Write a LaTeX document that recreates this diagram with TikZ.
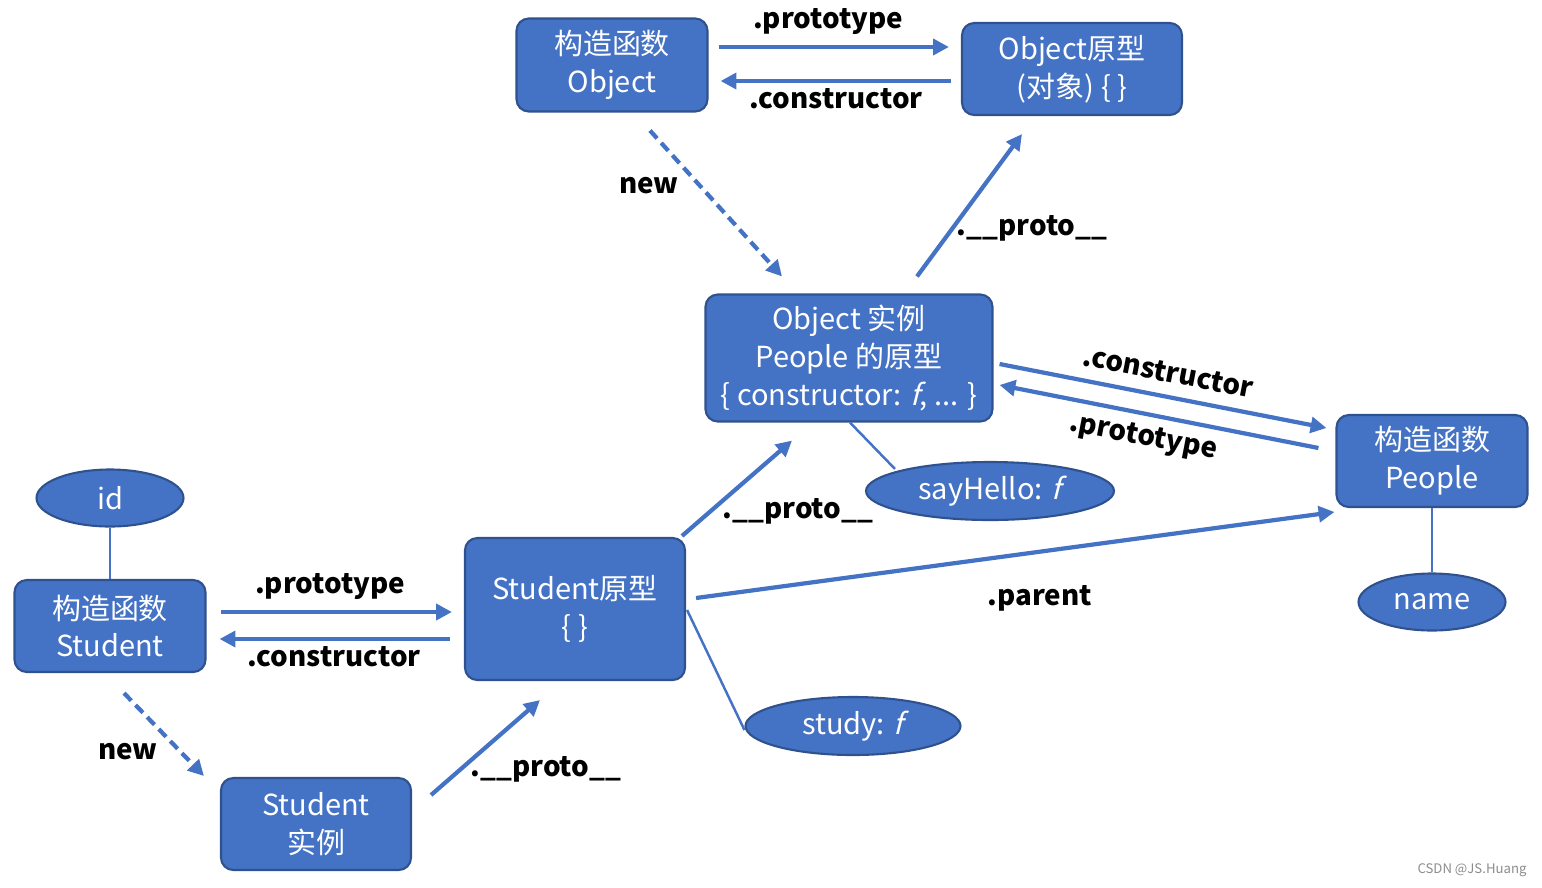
\documentclass[tikz,border=0pt]{standalone}
\usepackage{fontspec}
\setmainfont{Noto Sans CJK SC}[ItalicFont={Noto Sans CJK SC},ItalicFeatures={FakeSlant=0.25}]
\usetikzlibrary{arrows.meta,calc,shapes.geometric}
\definecolor{bfill}{HTML}{4472C4}
\definecolor{bdraw}{HTML}{2F528F}
\tikzset{
  box/.style={draw=bdraw,fill=bfill,line width=1.2pt,rounded corners=7pt,text=white,align=center,font=\fontsize{16.5}{21.5}\selectfont,inner sep=0pt},
  oval/.style={ellipse,draw=bdraw,fill=bfill,line width=1.2pt,text=white,font=\fontsize{16.5}{21}\selectfont,inner sep=0pt},
  arr/.style={draw=bfill,line width=2.4pt,-{Triangle[length=9pt,width=9pt]}},
  dasharr/.style={arr,dash pattern=on 6pt off 3.5pt},
  link/.style={draw=bfill,line width=1.4pt},
  lbl/.style={font=\bfseries\fontsize{15.8}{18}\selectfont,inner sep=0pt},
}
\begin{document}
\begin{tikzpicture}[x=0.02cm,y=-0.02cm]
\useasboundingbox (0,0) rectangle (1542,887);
% boxes
\node[box,minimum width=191*0.02cm,minimum height=93*0.02cm] (OC) at (612,65) {构造函数\\Object};
\node[box,minimum width=220*0.02cm,minimum height=92*0.02cm] (OP) at (1072,69) {Object原型\\(对象) \{ \}};
\node[box,minimum width=287*0.02cm,minimum height=127*0.02cm] (OI) at (849,358) {Object 实例\\People 的原型\\\{ constructor: \textit{f}, ... \}};
\node[box,minimum width=191*0.02cm,minimum height=92*0.02cm] (PC) at (1432,461) {构造函数\\People};
\node[box,minimum width=191*0.02cm,minimum height=92*0.02cm] (SC) at (110,626) {构造函数\\Student};
\node[box,minimum width=220*0.02cm,minimum height=142*0.02cm] (SP) at (575,609) {Student原型\\\{ \}};
\node[box,minimum width=190*0.02cm,minimum height=92*0.02cm] (SI) at (316,824) {Student\\实例};
% ovals
\node[oval,minimum width=147*0.02cm,minimum height=57*0.02cm] (id) at (110,498) {id};
\node[oval,minimum width=248*0.02cm,minimum height=58*0.02cm] (sh) at (990,491) {sayHello: \textit{f}};
\node[oval,minimum width=147*0.02cm,minimum height=57*0.02cm] (nm) at (1432,602) {name};
\node[oval,minimum width=215*0.02cm,minimum height=58*0.02cm] (st) at (853,726) {study: \textit{f}};
% plain links
\draw[link] (id) -- (SC);
\draw[link] (nm) -- (PC);
\draw[link] ($(OI.south)+(1,0)$) -- ($(sh.north)+(-95,8)$);
\draw[link] ($(SP.east)+(1,1)$) -- ($(st.west)+(0,4)$);
% arrows top
\draw[arr] ($(OC.east)+(10,-18)$) -- ($(OP.west)+(-12,-22)$);
\draw[arr] ($(OP.west)+(-10,12)$) -- ($(OC.east)+(12,16)$);
\node[lbl] (l1) at (828,22) {.prototype};
\node[lbl] (l2) at (836,99) {.constructor};
\draw[dasharr] ($(OC.south)+(38,18)$) -- ($(OI.north)+(-67,-17)$);
\node[lbl] (l3) at (649,186) {new};
\draw[arr] ($(OI.north)+(68,-17)$) -- ($(OP.south)+(-50,18)$);
\node[lbl] (l4) at (1032,228) {.\_\_proto\_\_};
% OI <-> PC
\draw[arr] ($(OI.east)+(6,6)$) -- ($(PC.west)+(-9,-33)$);
\draw[arr] ($(PC.west)+(-17,-13)$) -- ($(OI.east)+(6,27)$);
\node[lbl,rotate=-11] (l5) at (1168,372) {.constructor};
\node[lbl,rotate=-11] (l6) at (1143,438) {.prototype};
% SP -> OI
\draw[arr] ($(SP.north)+(107,-1)$) -- ($(OI.south)+(-57,18)$);
\node[lbl] (l7) at (798,511) {.\_\_proto\_\_};
% parent
\draw[arr] ($(SP.east)+(10,-11)$) -- ($(PC.west)+(-1,51)$);
\node[lbl] (l8) at (1040,598) {.parent};
% Student ctor <-> proto
\draw[arr] ($(SC.east)+(14,-14)$) -- ($(SP.west)+(-12,3)$);
\draw[arr] ($(SP.west)+(-14,30)$) -- ($(SC.east)+(13,13)$);
\node[lbl] (l9) at (330,587) {.prototype};
\node[lbl] (l10) at (334,657) {.constructor};
\draw[dasharr] ($(SC.south)+(14,20)$) -- ($(SI.west)+(-16,-48)$);
\node[lbl] (l11) at (128,752) {new};
\draw[arr] ($(SI.east)+(19,-29)$) -- ($(SP.south)+(-35,19)$);
\node[lbl] (l12) at (546,769) {.\_\_proto\_\_};
% watermark
\node[text=black!45,font=\fontsize{7.5}{9}\selectfont,inner sep=0pt] (wm) at (1472,870) {CSDN @JS.Huang};
\end{tikzpicture}
\end{document}
